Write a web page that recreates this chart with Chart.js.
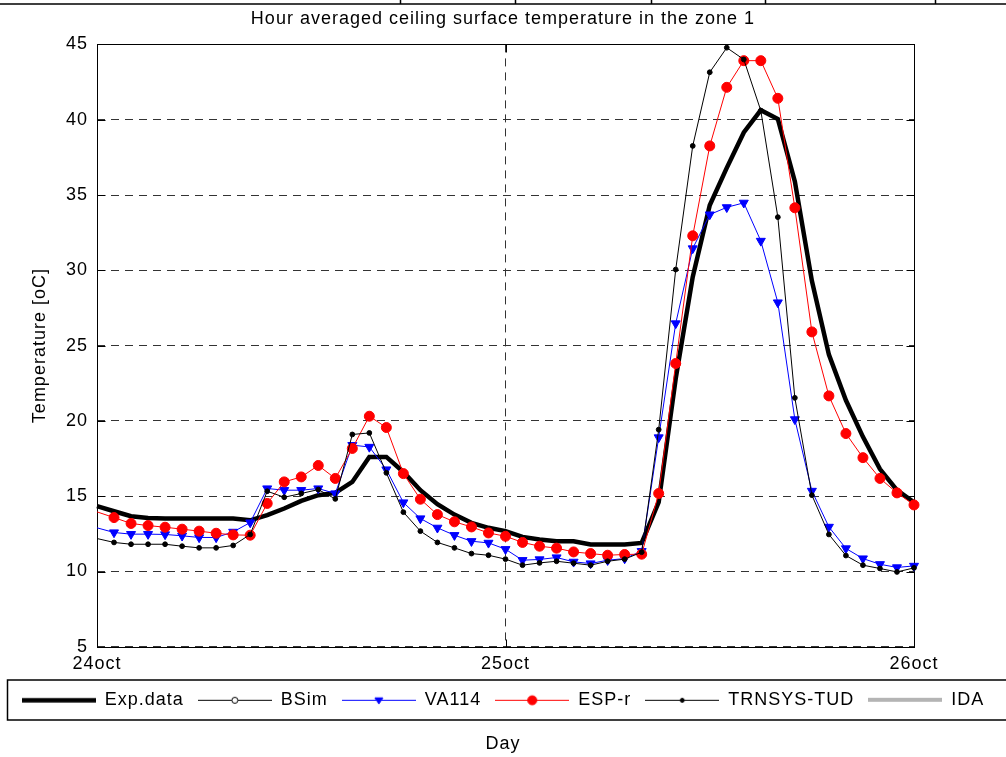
<!DOCTYPE html>
<html>
<head>
<meta charset="utf-8">
<script src="https://cdn.jsdelivr.net/npm/chart.js@4.4.1/dist/chart.umd.min.js"></script>
<style>
  html, body { margin: 0; padding: 0; background: #fff; }
  canvas { display: block; }
</style>
</head>
<body>
<canvas id="chart" width="1006" height="757" style="width:1006px;height:757px"></canvas>
<script>
// hourly values, 24oct 00h .. 26oct 00h
const hours = [0, 1, 2, 3, 4, 5, 6, 7, 8, 9, 10, 11, 12, 13, 14, 15, 16, 17, 18, 19, 20, 21, 22, 23, 24,
  25, 26, 27, 28, 29, 30, 31, 32, 33, 34, 35, 36, 37, 38, 39, 40, 41, 42, 43, 44, 45, 46, 47, 48];
const dayTicks = ['24oct', '25oct', '26oct'];

const expData = [14.34, 14.0, 13.67, 13.55, 13.52, 13.52, 13.52, 13.52, 13.52, 13.4, 13.74, 14.18, 14.69,
  15.07, 15.22, 15.95, 17.61, 17.61, 16.61, 15.4, 14.47, 13.78, 13.23, 12.9, 12.68, 12.3, 12.12, 12.01,
  12.01, 11.79, 11.79, 11.8, 11.9, 14.6, 22.8, 29.56, 34.32, 36.8, 39.15, 40.63, 40.05, 35.9, 29.3, 24.4,
  21.37, 18.94, 16.8, 15.4, 14.6];
const bsimData = [];
const va114Data = [12.9, 12.59, 12.48, 12.48, 12.46, 12.37, 12.26, 12.26, 12.63, 13.25, 15.51, 15.4, 15.4,
  15.51, 15.18, 18.39, 18.27, 16.77, 14.58, 13.52, 12.9, 12.41, 12.01, 11.9, 11.48, 10.75, 10.8, 10.93,
  10.64, 10.53, 10.75, 10.86, 11.35, 18.9, 26.47, 31.45, 33.7, 34.18, 34.48, 31.95, 27.86, 20.1, 15.35,
  12.96, 11.53, 10.86, 10.48, 10.27, 10.37];
const esprData = [13.96, 13.58, 13.19, 13.05, 12.94, 12.81, 12.68, 12.54, 12.43, 12.41, 14.52, 15.95, 16.28,
  17.04, 16.18, 18.17, 20.31, 19.56, 16.5, 14.8, 13.78, 13.3, 12.96, 12.56, 12.34, 11.93, 11.68, 11.55,
  11.3, 11.19, 11.08, 11.13, 11.15, 15.18, 23.81, 32.29, 38.26, 42.15, 43.92, 43.92, 41.42, 34.15, 25.91,
  21.66, 19.16, 17.56, 16.18, 15.22, 14.42];
const trnsysData = [12.19, 11.93, 11.81, 11.81, 11.81, 11.68, 11.57, 11.57, 11.73, 12.46, 15.33, 14.93, 15.18,
  15.44, 14.82, 19.1, 19.2, 16.55, 13.94, 12.68, 11.93, 11.57, 11.19, 11.08, 10.82, 10.42, 10.57, 10.68,
  10.55, 10.42, 10.68, 10.82, 11.28, 19.42, 30.05, 38.26, 43.15, 44.78, 44.0, 40.6, 33.53, 21.53, 15.07,
  12.46, 11.06, 10.42, 10.2, 9.97, 10.24];
const idaData = [];

Chart.defaults.font.family = '"Liberation Sans", Arial, sans-serif';
Chart.defaults.font.size = 18;
Chart.defaults.color = '#000';

// no marker on the first sample (it sits on the axis)
const markerSize = r => c => (c.dataIndex === 0 ? 0 : r);

// little line+marker picture used as the legend key
function legendKey(ds) {
  const cv = document.createElement('canvas');
  cv.width = 74;
  cv.height = 14;
  const g = cv.getContext('2d');
  const mid = ds.borderWidth % 2 ? 7.5 : 7;
  g.strokeStyle = ds.borderColor;
  g.lineWidth = ds.borderWidth;
  g.beginPath();
  g.moveTo(0, mid);
  g.lineTo(74, mid);
  g.stroke();
  const k = ds.key;
  if (k) {
    g.lineWidth = 1;
    g.fillStyle = k.fill;
    g.beginPath();
    if (k.shape === 'triangle') {
      g.moveTo(37 - k.r, mid - k.r * 0.6);
      g.lineTo(37 + k.r, mid - k.r * 0.6);
      g.lineTo(37, mid + k.r * 0.9);
      g.closePath();
    } else {
      g.arc(37, mid, k.r, 0, Math.PI * 2);
    }
    g.fill();
    g.stroke();
  }
  return cv;
}

const textSpacing = {
  id: 'textSpacing',
  beforeLayout(chart) { chart.ctx.letterSpacing = '1px'; },
  beforeDraw(chart) { chart.ctx.letterSpacing = '1px'; }
};

const frame = {
  id: 'frame',
  beforeDatasetsDraw(chart) {
    const { ctx, chartArea: a, scales } = chart;
    const L = Math.round(a.left) + 0.5, R = Math.round(a.right) + 0.5;
    const T = Math.round(a.top) + 0.5, B = Math.round(a.bottom) + 0.5;
    ctx.save();
    ctx.setLineDash([]);
    ctx.strokeStyle = '#000';
    ctx.lineWidth = 1;
    ctx.strokeRect(L, T, R - L, B - T);
    ctx.beginPath();
    scales.y.ticks.forEach(t => {
      const y = Math.round(scales.y.getPixelForValue(t.value)) + 0.5;
      ctx.moveTo(L, y); ctx.lineTo(L + 8, y);
      ctx.moveTo(R, y); ctx.lineTo(R - 8, y);
    });
    const xm = Math.round(scales.x.getPixelForValue(24)) + 0.5;
    ctx.moveTo(xm, T); ctx.lineTo(xm, T + 8);
    ctx.moveTo(xm, B); ctx.lineTo(xm, B - 8);
    ctx.stroke();
    ctx.restore();
  }
};

const legendBox = {
  id: 'legendBox',
  afterDraw(chart) {
    const { ctx, legend } = chart;
    ctx.save();
    ctx.setLineDash([]);
    ctx.strokeStyle = '#000';
    if (legend && legend.legendHitBoxes.length) {
      const hb = legend.legendHitBoxes[0];
      const cy = Math.round(hb.top + hb.height / 2);
      ctx.lineWidth = 1.5;
      ctx.strokeRect(7.5, cy - 20, 1010, 40);
    }
    // remains of the table row above the figure
    ctx.lineWidth = 1.5;
    ctx.beginPath();
    ctx.moveTo(0, 4); ctx.lineTo(1006, 4);
    [400, 515, 651, 765, 935].forEach(x => { ctx.moveTo(x + 0.5, 0); ctx.lineTo(x + 0.5, 4); });
    ctx.stroke();
    ctx.restore();
  }
};

new Chart(document.getElementById('chart'), {
  type: 'line',
  data: {
    labels: hours,
    datasets: [
      { label: 'Exp.data', data: expData, borderColor: '#000', borderWidth: 4.5, pointRadius: 0, order: 6 },
      { label: 'BSim', data: bsimData, borderColor: '#000', borderWidth: 1, pointRadius: markerSize(4),
        pointBackgroundColor: '#fff', pointBorderColor: '#000', order: 5, key: { shape: 'circle', r: 3, fill: '#fff' } },
      { label: 'VA114', data: va114Data, borderColor: '#0000ff', backgroundColor: '#0000ff', borderWidth: 1,
        pointStyle: 'triangle', pointRotation: 180, pointRadius: markerSize(5.2), pointBorderWidth: 1,
        order: 4, key: { shape: 'triangle', r: 4, fill: '#0000ff' } },
      { label: 'ESP-r', data: esprData, borderColor: '#ff0000', backgroundColor: '#ff0000', borderWidth: 1,
        pointRadius: markerSize(5), pointBorderWidth: 1, order: 3, key: { shape: 'circle', r: 4.5, fill: '#ff0000' } },
      { label: 'TRNSYS-TUD', data: trnsysData, borderColor: '#000', backgroundColor: '#000', borderWidth: 1,
        pointRadius: markerSize(2.4), pointBorderWidth: 1, order: 2, key: { shape: 'circle', r: 2, fill: '#000' } },
      { label: 'IDA', data: idaData, borderColor: '#b4b4b4', borderWidth: 4, pointRadius: 0, order: 1 }
    ]
  },
  options: {
    responsive: false,
    animation: false,
    devicePixelRatio: 1,
    events: [],
    clip: false,
    elements: { line: { tension: 0, fill: false } },
    layout: { padding: { left: 0, right: 0, top: 0, bottom: 0 } },
    scales: {
      x: {
        type: 'category',
        ticks: {
          autoSkip: false, maxRotation: 0, minRotation: 0, padding: 6,
          callback: (v, i) => (i % 24 === 0 ? dayTicks[i / 24] : '')
        },
        grid: { drawTicks: false, color: c => (c.index === 24 ? '#333' : 'rgba(0,0,0,0)') },
        border: { display: false, dash: [8, 6] },
        afterFit: s => { s.height = 30; }
      },
      y: {
        min: 5, max: 45,
        ticks: { stepSize: 5, padding: 9 },
        grid: { drawTicks: false, color: '#333' },
        border: { display: false, dash: [8, 6] },
        title: { display: true, text: 'Temperature [oC]', padding: { top: 29, bottom: 0 } },
        afterFit: s => { s.width = 97; }
      },
      yR: {
        position: 'right', min: 5, max: 45,
        ticks: { display: false },
        grid: { display: false },
        border: { display: false },
        afterFit: s => { s.width = 92; }
      }
    },
    plugins: {
      tooltip: { enabled: false },
      title: {
        display: true,
        text: 'Hour averaged ceiling surface temperature in the zone 1',
        font: { size: 18, weight: 'normal' },
        padding: { top: 8, bottom: 14.8 }
      },
      subtitle: {
        display: true,
        position: 'bottom',
        text: 'Day',
        font: { size: 18, weight: 'normal' },
        padding: { top: 14.4, bottom: 2.2 }
      },
      legend: {
        position: 'bottom',
        labels: {
          usePointStyle: true,
          pointStyleWidth: 74,
          padding: 14,
          font: { size: 18 },
          generateLabels: chart => chart.data.datasets.map((ds, i) => ({
            text: ds.label,
            pointStyle: legendKey(ds),
            datasetIndex: i,
            hidden: false,
            fontColor: '#000',
            lineWidth: 0
          }))
        }
      }
    }
  },
  plugins: [textSpacing, frame, legendBox]
});
</script>
</body>
</html>
